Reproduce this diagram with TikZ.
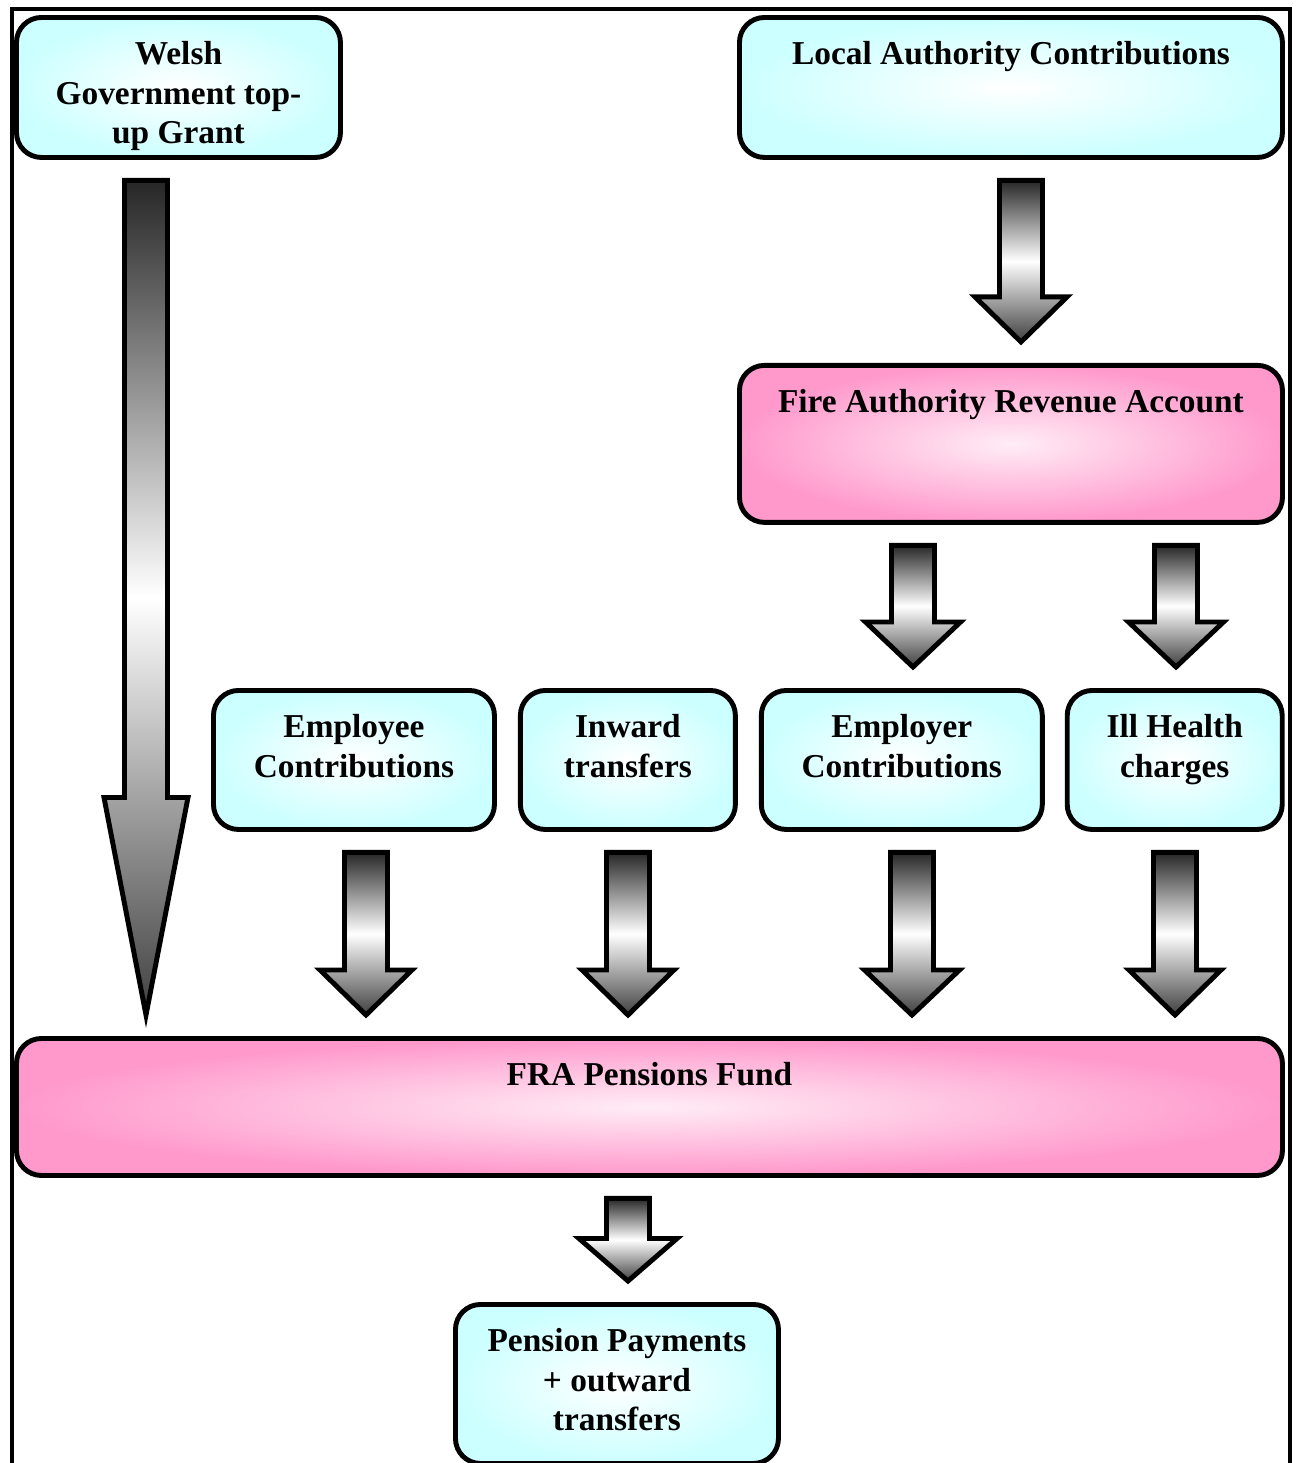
\documentclass[tikz,border=0pt]{standalone}
\usepackage{fontspec}
\setmainfont{Liberation Serif}
\usetikzlibrary{positioning, calc}
\definecolor{boxcyan}{RGB}{204,255,255}
\definecolor{boxpink}{RGB}{255,153,204}
\newcommand{\flowarrow}[5]{%
  \draw[flow] let \p1 = (#2.south), \p2 = (#3.north) in
    ({#1cm-0.43cm}, {\y1-0.41cm}) -- ({#1cm+0.43cm}, {\y1-0.41cm})
    -- ({#1cm+0.43cm}, {\y2+0.42cm+#4cm}) -- ({#1cm+#5cm}, {\y2+0.42cm+#4cm})
    -- ({#1cm}, {\y2+0.42cm}) -- ({#1cm-#5cm}, {\y2+0.42cm+#4cm})
    -- ({#1cm-0.43cm}, {\y2+0.42cm+#4cm}) -- cycle;}

\begin{document}
\begin{tikzpicture}[
    cbox/.style    = {draw, line width=2.8pt, rounded corners=0.5cm,
                      inner sep=0pt, anchor=north west,
                      inner color=white, outer color=boxcyan},
    pbox/.style    = {cbox, inner color=boxpink!18, outer color=boxpink},
    boxtext/.style = {font=\bfseries\fontsize{19}{22.5}\selectfont,
                      align=center, inner sep=0pt, anchor=north, yshift=-0.52cm},
    flow/.style    = {draw, line width=2.8pt,
                      top color=black!85, bottom color=black!75, middle color=white},
    frame/.style   = {draw, line width=2.2pt},
  ]
  \useasboundingbox (0,0) rectangle (25.96,-29.26);
  \draw[frame] (0.24,-29.6) |- (25.80,-0.18) -- (25.80,-29.6);

  \node[cbox, minimum width=6.48cm, minimum height=2.80cm,
        label={[boxtext]north:{Welsh\\Government top-\\up Grant}}] (wg) at (0.28,-0.30) {};
  \node[cbox, minimum width=10.86cm, minimum height=2.80cm,
        label={[boxtext]north:{Local Authority Contributions}}] (la) at (14.74,-0.30) {};
  \node[pbox, below=4.06cm of la, minimum width=10.86cm, minimum height=3.14cm,
        label={[boxtext]north:{Fire Authority Revenue Account}}] (fra) {};
  \node[cbox, minimum width=5.62cm, minimum height=2.78cm,
        label={[boxtext]north:{Employee\\Contributions}}] (emp) at (4.22,-13.76) {};
  \node[cbox, right=0.42cm of emp, minimum width=4.30cm, minimum height=2.78cm,
        label={[boxtext]north:{Inward\\transfers}}] (inw) {};
  \node[cbox, right=0.42cm of inw, minimum width=5.62cm, minimum height=2.78cm,
        label={[boxtext]north:{Employer\\Contributions}}] (empr) {};
  \node[cbox, right=0.40cm of empr, minimum width=4.30cm, minimum height=2.78cm,
        label={[boxtext]north:{Ill Health\\charges}}] (ill) {};
  \node[pbox, minimum width=25.32cm, minimum height=2.74cm,
        label={[boxtext]north:{FRA Pensions Fund}}] (fund) at (0.28,-20.72) {};
  \node[cbox, minimum width=6.46cm, minimum height=3.18cm,
        label={[boxtext]north:{Pension Payments\\+ outward\\transfers}}] (pay) at (9.06,-26.04) {};

  \flowarrow{2.92}{wg}{fund}{4.35}{0.84}
  \flowarrow{20.42}{la}{fra}{0.9}{0.92}
  \flowarrow{18.26}{fra}{empr}{0.9}{0.95}
  \flowarrow{23.52}{fra}{ill}{0.9}{0.95}
  \flowarrow{7.32}{emp}{fund}{0.9}{0.92}
  \flowarrow{12.56}{inw}{fund}{0.9}{0.92}
  \flowarrow{18.24}{empr}{fund}{0.9}{0.95}
  \flowarrow{23.50}{ill}{fund}{0.9}{0.92}
  \flowarrow{12.56}{fund}{pay}{0.85}{0.98}
\end{tikzpicture}
\end{document}
